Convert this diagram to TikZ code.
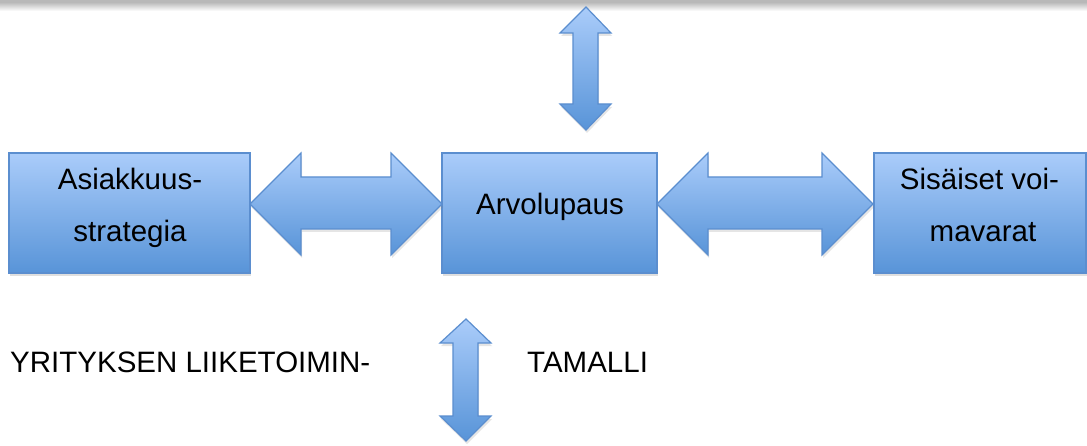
\documentclass[tikz,border=0pt]{standalone}
\usepackage{fontspec}
\setmainfont{Liberation Sans}
\usetikzlibrary{shadows}
\definecolor{boxtop}{HTML}{AACCFA}
\definecolor{boxbot}{HTML}{5894D8}
\definecolor{boxline}{HTML}{5B8ECF}
\tikzset{
  blockbox/.style={draw=boxline, line width=1.2pt, top color=boxtop, bottom color=boxbot,
     minimum width=#1, minimum height=120pt, inner sep=0pt,
     drop shadow={opacity=0.25, shadow xshift=1pt, shadow yshift=-3pt}},
  blockarrow/.style={draw=boxline, line width=1.2pt, top color=boxtop, bottom color=boxbot,
     drop shadow={opacity=0.2, shadow xshift=1pt, shadow yshift=-3pt}},
  lbl/.style={anchor=base, inner sep=0pt, font=\fontsize{29.5}{35}\selectfont}
}
\begin{document}
\begin{tikzpicture}[x=1pt,y=-1pt]
\useasboundingbox (0,0) rectangle (1087,446);
\fill[white] (0,0) rectangle (1087,446);
% top gray bar
\fill[black!28] (0,0) rectangle (1087,4);
\shade[top color=black!22, bottom color=white] (0,4) rectangle (1087,11);
% boxes
\node[blockbox=241pt] (L) at (129.5,213) {};
\node[blockbox=215pt] (M) at (549.5,213) {};
\node[blockbox=212pt] (R) at (980,213) {};
% labels
\node[lbl] (l1) at (130,190) {Asiakkuus-};
\node[lbl] (l2) at (130,242) {strategia};
\node[lbl] (m1) at (550,215) {Arvolupaus};
\node[lbl] (r1) at (979.5,190) {Sisäiset voi-};
\node[lbl] (r2) at (983,242) {mavarat};
\node[lbl, anchor=base west] (b1) at (10,372) {YRITYKSEN LIIKETOIMIN-};
\node[lbl, anchor=base west] (b2) at (527,372) {TAMALLI};
% horizontal double arrows
\path[blockarrow] (250,204) -- (301,153) -- (301,177) -- (391,177) -- (391,153) -- (442,204)
  -- (391,255) -- (391,229) -- (301,229) -- (301,255) -- cycle;
\path[blockarrow] (657,204) -- (708,153) -- (708,177) -- (822,177) -- (822,153) -- (873,204)
  -- (822,255) -- (822,229) -- (708,229) -- (708,255) -- cycle;
% vertical double arrows
\path[blockarrow] (586,7) -- (611,33) -- (598,33) -- (598,104) -- (611,104) -- (586,130)
  -- (560,104) -- (573,104) -- (573,33) -- (560,33) -- cycle;
\path[blockarrow] (466,319) -- (491,343) -- (478,343) -- (478,416) -- (491,416) -- (466,441)
  -- (440,416) -- (453,416) -- (453,343) -- (440,343) -- cycle;
\end{tikzpicture}
\end{document}
